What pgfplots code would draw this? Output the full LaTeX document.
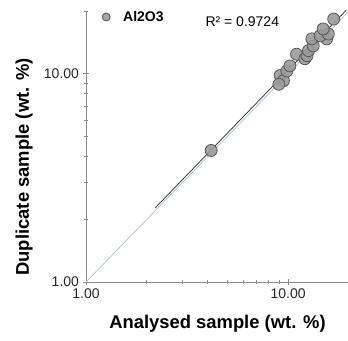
\documentclass[border=0pt]{standalone}
\usepackage{fontspec}
\setmainfont{Liberation Sans}
\usepackage{pgfplots}
\pgfplotsset{compat=1.18}
\definecolor{axgray}{RGB}{140,140,140}
\definecolor{ptfill}{RGB}{155,155,155}
\definecolor{ptedge}{RGB}{85,85,85}
\definecolor{oneone}{RGB}{180,195,215}
\begin{document}
\begin{tikzpicture}
\useasboundingbox (-86pt,-58pt) rectangle (262pt,282pt);
\begin{axis}[
  at={(0,0)}, anchor=south west,
  scale only axis, width=263pt, height=271pt,
  xmode=log, ymode=log,
  xmin=1, xmax=20, ymin=1, ymax=20,
  axis x line=bottom, axis y line=left,
  axis line style={axgray, -, line width=0.8pt},
  xtick={1,10}, xticklabels={1.00,10.00},
  ytick={1,10}, yticklabels={1.00,10.00},
  minor xtick={2,3,4,5,6,7,8,9},
  minor ytick={2,3,4,5,6,7,8,9,20},
  tick style={axgray, line width=0.8pt},
  major tick length=7pt, minor tick length=4pt,
  tick align=center,
  /pgf/number format/assume math mode=true,
  ticklabel style={font=\fontsize{14}{16}\selectfont, text=black!85},
  xlabel={\textbf{Analysed sample (wt. \%)}},
  ylabel={\textbf{Duplicate sample (wt. \%)}},
  xlabel style={at={(rel axis cs:0.5,0)}, anchor=center, yshift=-42pt},
  ylabel style={at={(axis description cs:-0.235,0.425)}, anchor=center},
  label style={font=\fontsize{18.4}{21}\selectfont},
  legend style={at={(rel axis cs:0,0)}, anchor=west, xshift=16pt, yshift=265pt,
    draw=none, fill=none, inner sep=0pt,
    font=\bfseries\fontsize{14}{16}\selectfont},
  legend image code/.code={\path[draw=none,fill=none] (0pt,0pt) -- (19pt,0pt);\draw[#1, mark size=4pt] plot coordinates {(4pt,0pt)};},
  legend cell align=left,
  clip=false,
]
\addplot[oneone, line width=0.8pt, forget plot] coordinates {(1,1) (20,20)};
\addplot[only marks, mark=*, mark size=6pt, mark options={fill=ptfill, draw=ptedge, line width=0.8pt, fill opacity=0.9}]
coordinates {
(4.16,4.28)
(9.13,9.8)
(9.48,9.26)
(9.0,8.9)
(9.85,10.3)
(10.2,10.9)
(11.0,12.4)
(12.1,11.8)
(12.4,12.2)
(12.6,12.9)
(13.3,13.6)
(13.1,14.7)
(15.5,14.7)
(14.4,15.2)
(15.8,15.5)
(14.9,16.4)
(16.8,18.3)
};
\addlegendentry{Al2O3}
\addplot[black!85, line width=0.7pt, forget plot] coordinates {(2.2,2.27) (19.4,20.2)};
\node[anchor=west, font=\fontsize{14}{16}\selectfont] at (rel axis cs:0.441,0.962) {R² = 0.9724};
\end{axis}
\end{tikzpicture}
\end{document}
